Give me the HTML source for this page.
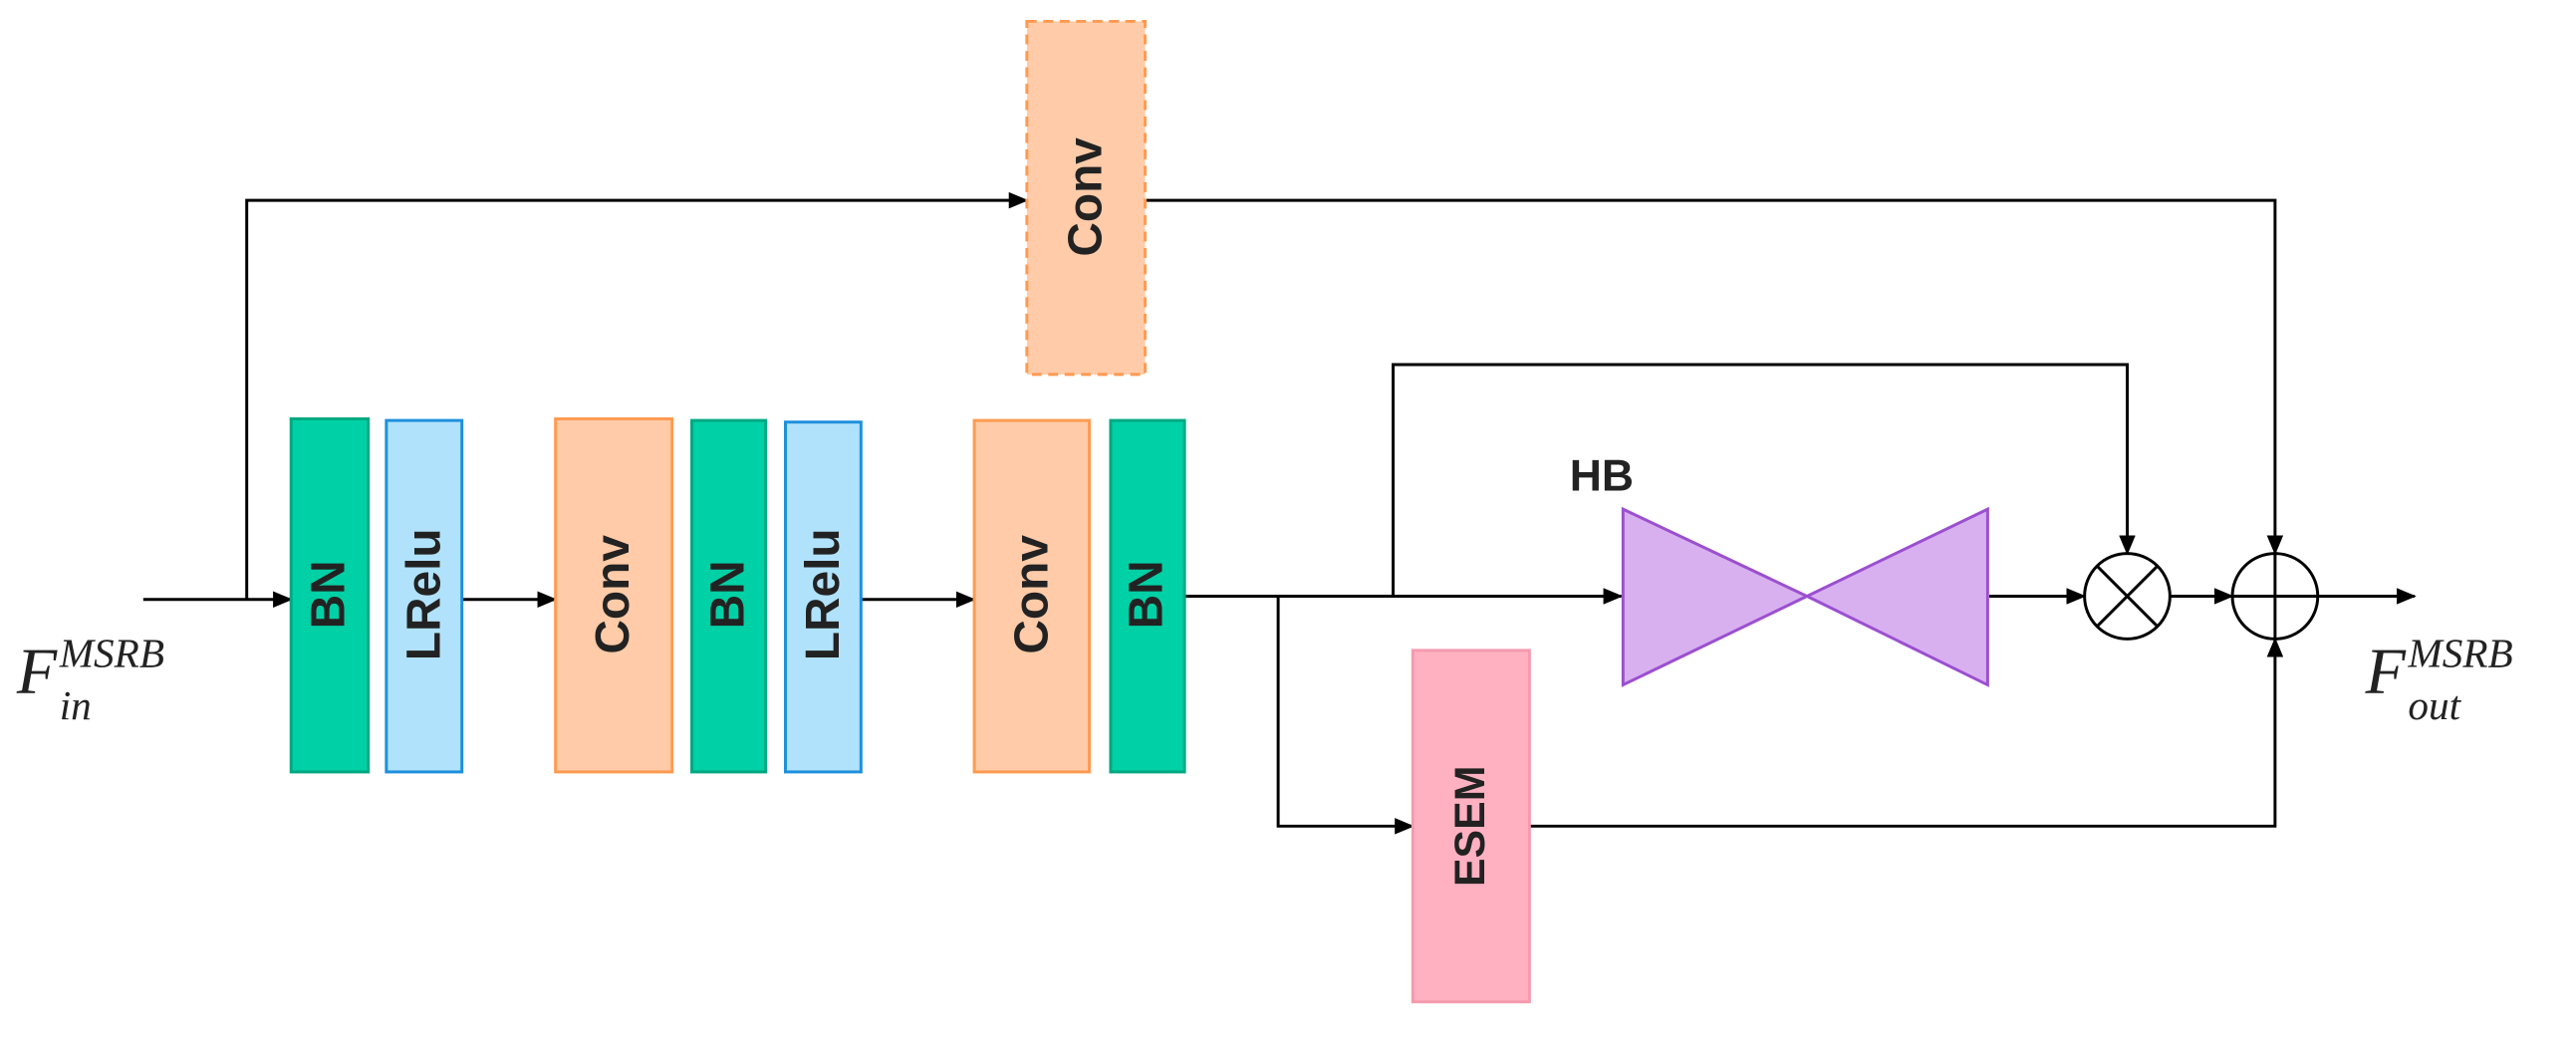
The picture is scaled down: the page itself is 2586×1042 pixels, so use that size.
<!DOCTYPE html>
<html><head><meta charset="utf-8"><style>
html,body{margin:0;padding:0;background:#fff;}
svg{display:block;}
</style></head><body>
<svg width="2586" height="1042" viewBox="0 0 1568 632" xmlns="http://www.w3.org/2000/svg">
<defs>
<marker id="a" markerWidth="12" markerHeight="10" refX="11" refY="5" orient="auto" markerUnits="userSpaceOnUse">
<path d="M0,0 L12,5 L0,10 Z" fill="#000"/>
</marker>
</defs>
<g stroke="#000" stroke-width="1.8" fill="none">
<line x1="87" y1="365" x2="177" y2="365" marker-end="url(#a)"/>
<polyline points="150,365 150,122 625,122" marker-end="url(#a)"/>
<polyline points="697,122 1385,122 1385,337" marker-end="url(#a)"/>
<line x1="281" y1="365" x2="338" y2="365" marker-end="url(#a)"/>
<line x1="524" y1="365" x2="593" y2="365" marker-end="url(#a)"/>
<line x1="721" y1="363" x2="987" y2="363" marker-end="url(#a)"/>
<polyline points="848,363 848,222 1295,222 1295,337" marker-end="url(#a)"/>
<polyline points="778,363 778,503 860,503" marker-end="url(#a)"/>
<polyline points="931,503 1385,503 1385,389" marker-end="url(#a)"/>
<line x1="1211" y1="363" x2="1269" y2="363" marker-end="url(#a)"/>
<line x1="1321" y1="363" x2="1359" y2="363" marker-end="url(#a)"/>
<line x1="1411" y1="363" x2="1470" y2="363" marker-end="url(#a)"/>
</g>
<rect x="625" y="13" width="72" height="215" fill="#FFCBA8" stroke="#FF9A50" stroke-width="1.8" stroke-dasharray="6,4"/>
<g stroke-width="1.8">
<rect x="177" y="255" width="47" height="215" fill="#00D0A5" stroke="#00A882"/>
<rect x="235" y="256" width="46" height="214" fill="#B0E2FB" stroke="#1E90DC"/>
<rect x="338" y="255" width="71" height="215" fill="#FFCBA8" stroke="#FF9A50"/>
<rect x="421" y="256" width="45" height="214" fill="#00D0A5" stroke="#00A882"/>
<rect x="478" y="257" width="46" height="213" fill="#B0E2FB" stroke="#1E90DC"/>
<rect x="593" y="256" width="70" height="214" fill="#FFCBA8" stroke="#FF9A50"/>
<rect x="676" y="256" width="45" height="214" fill="#00D0A5" stroke="#00A882"/>
<rect x="860" y="396" width="71" height="214" fill="#FFB1C1" stroke="#F59AAE"/>
</g>
<polygon points="988,310 988,417 1100,363" fill="#D8B0F0" stroke="#9B4FD0" stroke-width="1.8"/>
<polygon points="1210,310 1210,417 1100,363" fill="#D8B0F0" stroke="#9B4FD0" stroke-width="1.8"/>
<g stroke="#000" stroke-width="1.8" fill="#fff">
<circle cx="1295" cy="363" r="26"/>
<line x1="1276.6" y1="344.6" x2="1313.4" y2="381.4"/>
<line x1="1313.4" y1="344.6" x2="1276.6" y2="381.4"/>
<circle cx="1385" cy="363" r="26"/>
<line x1="1359" y1="363" x2="1411" y2="363"/>
<line x1="1385" y1="337" x2="1385" y2="389"/>
</g>
<g font-family="Liberation Sans, sans-serif" font-size="29" font-weight="bold" fill="#222" text-anchor="middle" dominant-baseline="central">
<text transform="translate(661,120) rotate(-90)">Conv</text>
<text transform="translate(200,362) rotate(-90)">BN</text>
<text transform="translate(258,362) rotate(-90)">LRelu</text>
<text transform="translate(373,362) rotate(-90)">Conv</text>
<text transform="translate(443,362) rotate(-90)">BN</text>
<text transform="translate(501,362) rotate(-90)">LRelu</text>
<text transform="translate(628,362) rotate(-90)">Conv</text>
<text transform="translate(698,362) rotate(-90)">BN</text>
<text transform="translate(895,503) rotate(-90)" font-size="26">ESEM</text>
<text x="975" y="290" font-size="27">HB</text>
</g>
<g font-family="Liberation Serif, serif" font-style="italic" fill="#222">
<text x="10" y="422" font-size="40">F</text>
<text x="36" y="406" font-size="25">MSRB</text>
<text x="36" y="438" font-size="25">in</text>
<text x="1440" y="422" font-size="40">F</text>
<text x="1466" y="406" font-size="25">MSRB</text>
<text x="1466" y="438" font-size="25">out</text>
</g>
</svg>
</body></html>
